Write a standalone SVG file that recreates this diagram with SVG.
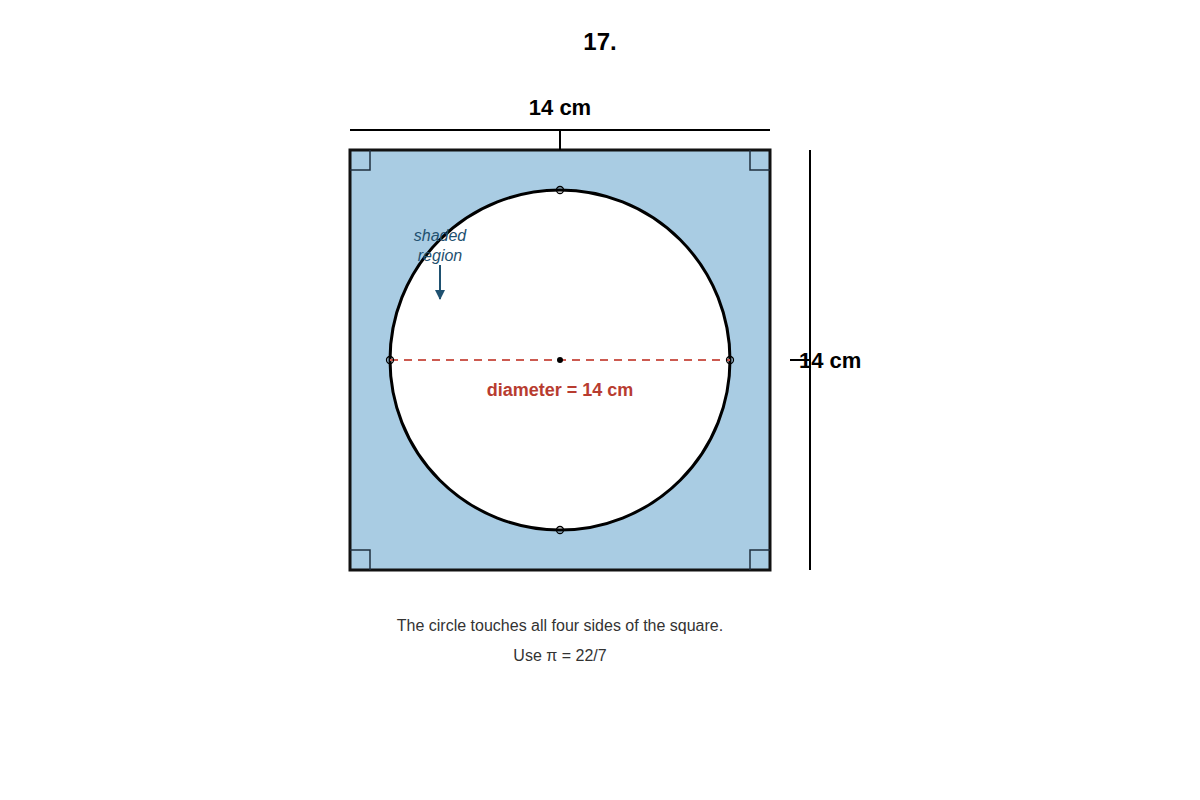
<svg xmlns="http://www.w3.org/2000/svg" width="1200" height="800" viewBox="0 0 1200 800">
<style>
text{font-family:"Liberation Sans",Arial,sans-serif}
.bold{font-weight:bold;fill:#000}
.corner{fill:none;stroke:#1f2f3f;stroke-width:1.5}
.dim{stroke:#000;stroke-width:2;fill:none}
.mark{fill:none;stroke:#000;stroke-width:1.3}
.note{font-size:16px;fill:#333}
</style>
<defs>
<marker id="arr" viewBox="0 0 10 10" refX="9" refY="5" markerWidth="5" markerHeight="6" orient="auto">
<path d="M0,0 L10,5 L0,10 z" fill="#1f5170"/>
</marker>
</defs>
<rect width="1200" height="800" fill="#fff"/>
<text x="600" y="50" text-anchor="middle" class="bold" font-size="24">17.</text>
<g id="square">
<rect x="350" y="150" width="420" height="420" fill="#a9cce3" stroke="#111" stroke-width="3"/>
<path class="corner" d="M350,170 H370 V150"/>
<path class="corner" d="M770,170 H750 V150"/>
<path class="corner" d="M350,550 H370 V570"/>
<path class="corner" d="M770,550 H750 V570"/>
</g>
<g id="circle">
<circle cx="560" cy="360" r="170" fill="#fff" stroke="#000" stroke-width="3"/>
</g>
<g id="connectors">
<path class="dim" d="M350,130 H770 M560,130 V150"/>
<path class="dim" d="M810,150 V570 M790,360 H810"/>
<line x1="390" y1="360" x2="730" y2="360" stroke="#cc5a50" stroke-width="2" stroke-dasharray="8,6"/>
<line x1="440" y1="265" x2="440" y2="299" stroke="#1f5170" stroke-width="2" marker-end="url(#arr)"/>
</g>
<g id="points">
<circle cx="560" cy="360" r="3" fill="#000"/>
<circle class="mark" cx="390" cy="360" r="3.5"/>
<circle class="mark" cx="730" cy="360" r="3.5"/>
<circle class="mark" cx="560" cy="190" r="3.5"/>
<circle class="mark" cx="560" cy="530" r="3.5"/>
</g>
<g id="labels">
<text x="560" y="115" text-anchor="middle" class="bold" font-size="22">14 cm</text>
<text x="799" y="368" class="bold" font-size="22">14 cm</text>
<text x="560" y="396" text-anchor="middle" font-size="18" font-weight="bold" fill="#b83c30">diameter = 14 cm</text>
<text x="440" y="241" text-anchor="middle" font-size="16" font-style="italic" fill="#1f5170">shaded</text>
<text x="440" y="261" text-anchor="middle" font-size="16" font-style="italic" fill="#1f5170">region</text>
<text x="560" y="631" text-anchor="middle" class="note">The circle touches all four sides of the square.</text>
<text x="560" y="661" text-anchor="middle" class="note">Use π = 22/7</text>
</g>
</svg>
